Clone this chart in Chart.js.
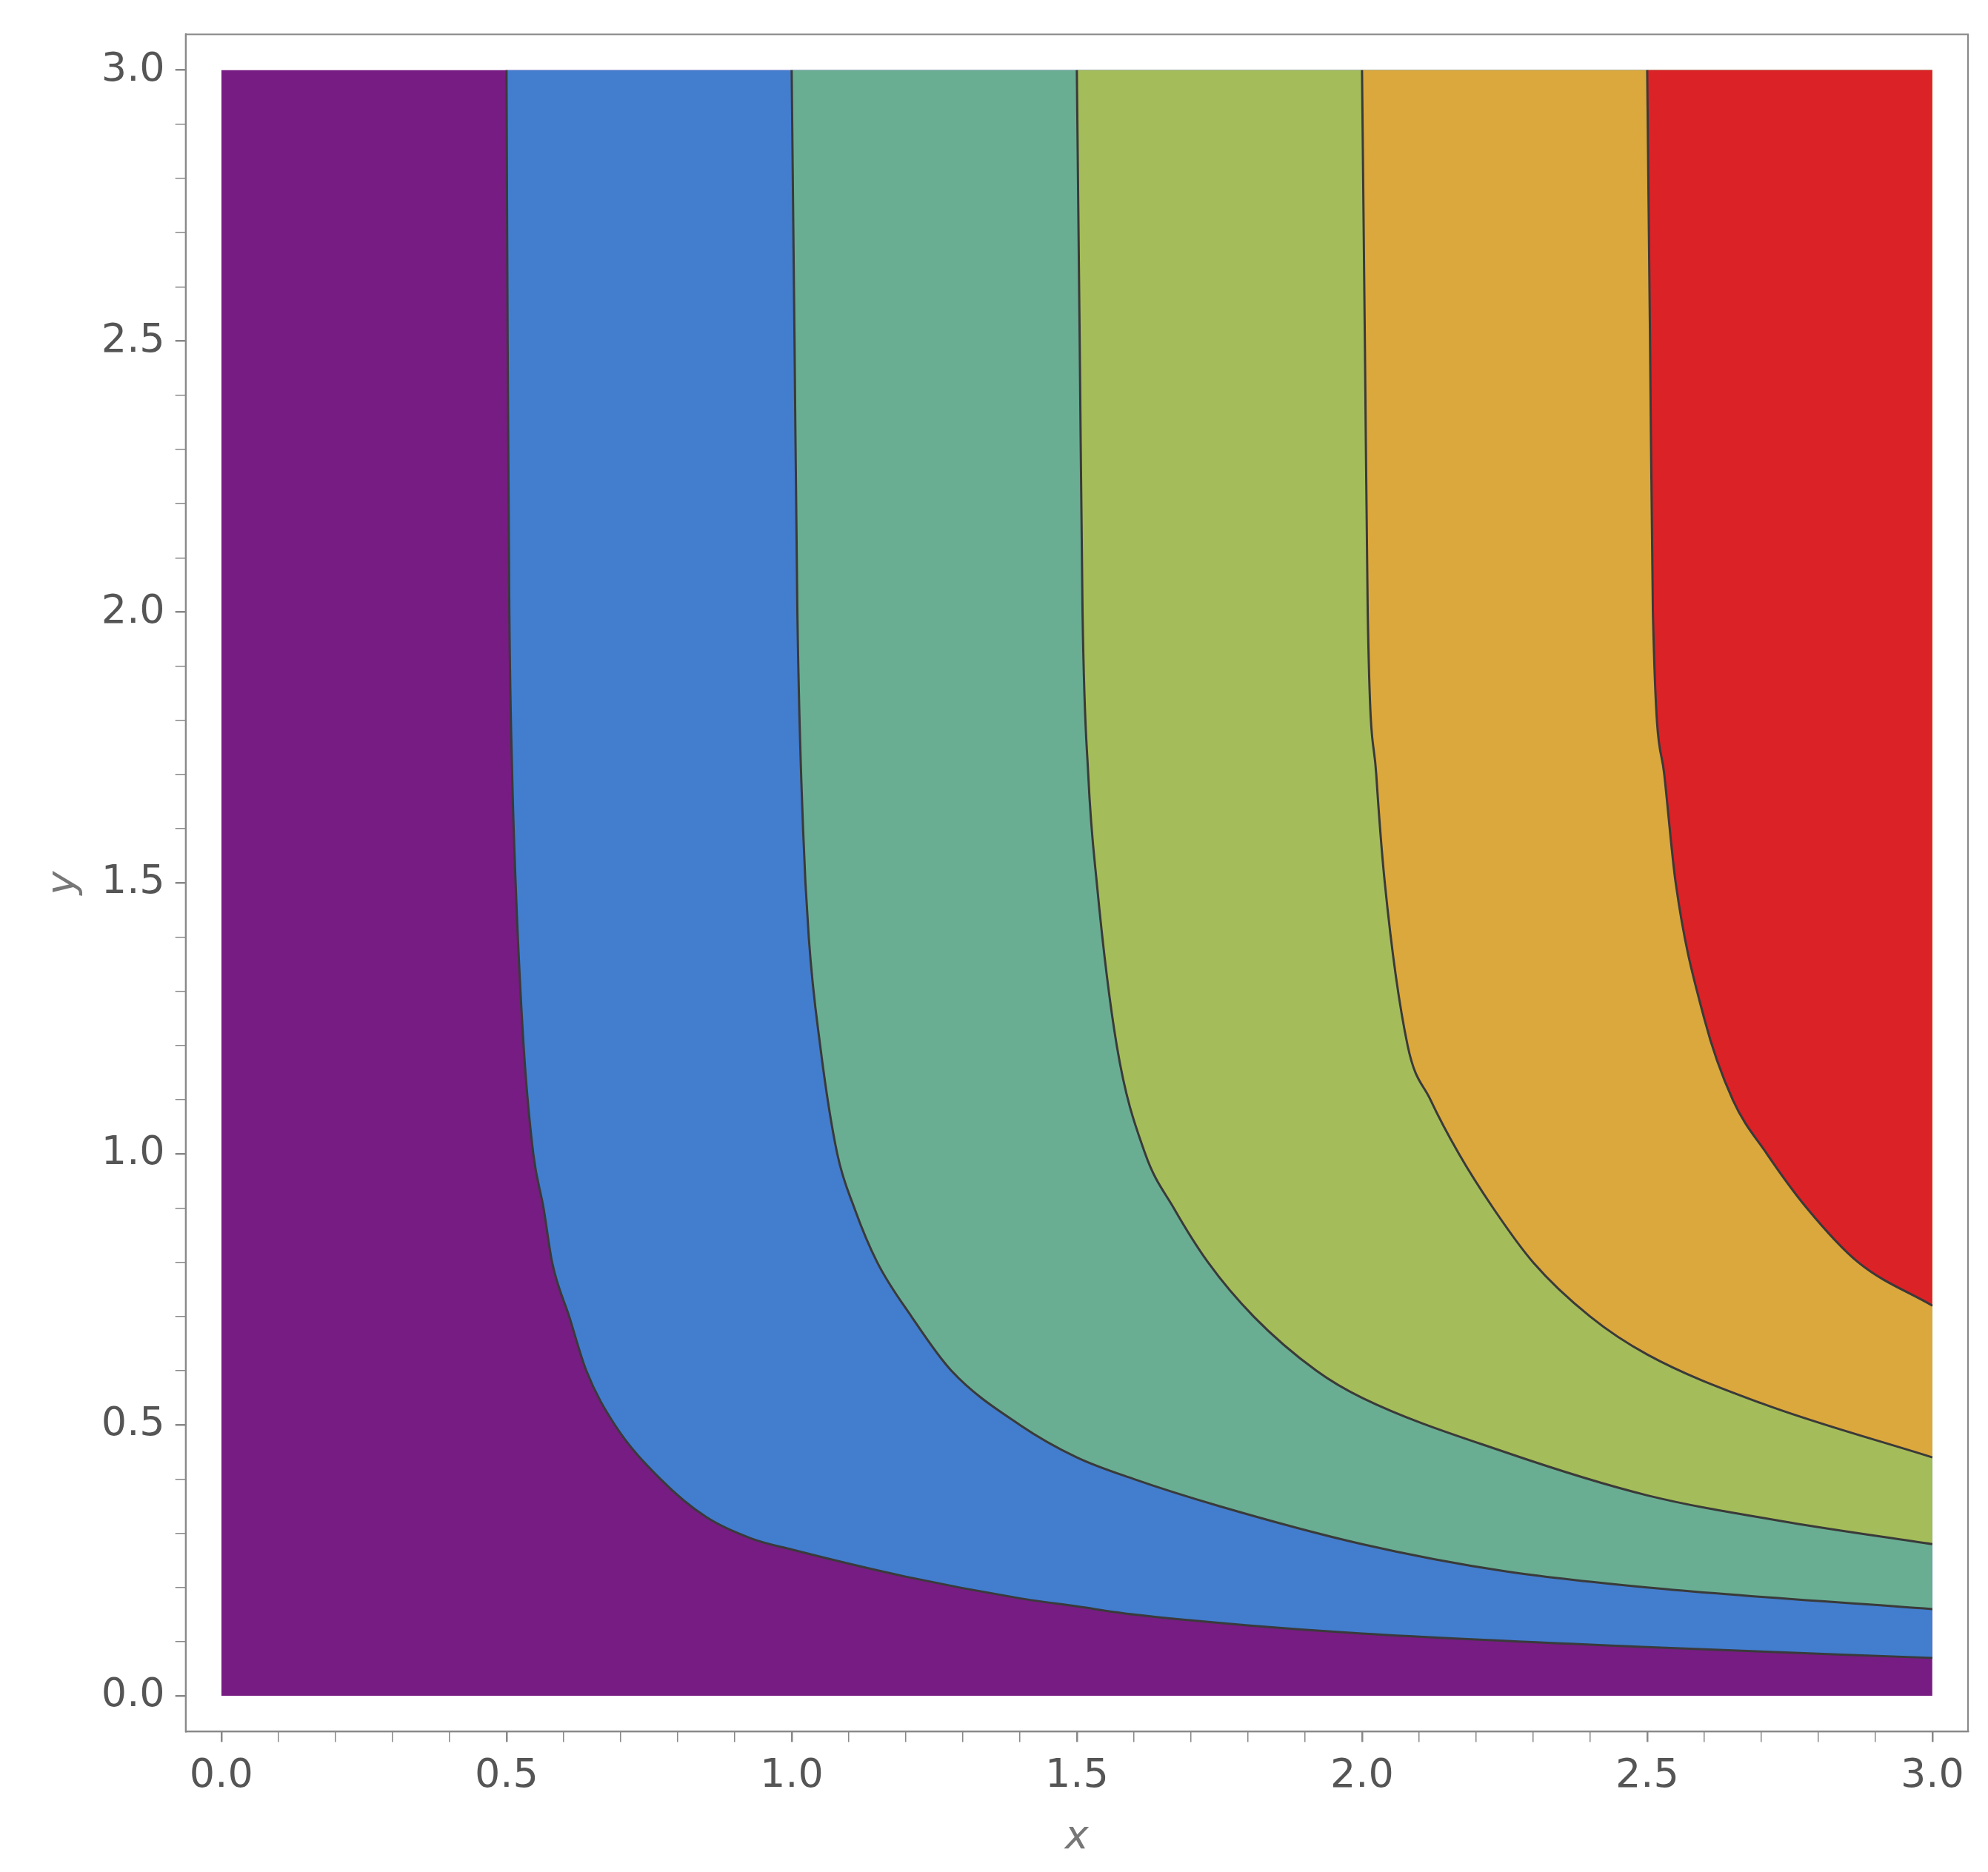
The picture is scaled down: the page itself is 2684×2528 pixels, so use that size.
<!DOCTYPE html>
<html>
<head>
<meta charset="utf-8">
<script src="https://cdn.jsdelivr.net/npm/chart.js@4/dist/chart.umd.min.js"></script>
<style>
  html, body { margin: 0; background: #fff; }
  #wrap { width: 2684px; height: 2528px; }
</style>
</head>
<body>
<div id="wrap"><canvas id="myChart"></canvas></div>
<script>
// contour boundaries, each as x (increasing) and y
const levels = ['0.5', '1.0', '1.5', '2.0', '2.5'];
const c1x = [0.5, 0.502, 0.505, 0.51, 0.516, 0.53, 0.547, 0.565, 0.58, 0.61, 0.64, 0.69, 0.77, 0.85, 0.93, 1.0, 1.2, 1.4, 1.5, 1.6, 1.8, 2.0, 2.5, 3.0];
const c1y = [3.0, 2.5, 2.0, 1.7, 1.5, 1.2, 1.0, 0.9, 0.8, 0.7, 0.6, 0.5, 0.4, 0.33, 0.29, 0.27, 0.22, 0.18, 0.165, 0.15, 0.13, 0.115, 0.09, 0.07];
const c2x = [1.0, 1.005, 1.01, 1.02, 1.03, 1.05, 1.08, 1.11, 1.15, 1.21, 1.28, 1.4, 1.5, 1.6, 1.75, 2.0, 2.25, 2.5, 3.0];
const c2y = [3.0, 2.5, 2.0, 1.6, 1.4, 1.2, 1.0, 0.9, 0.8, 0.7, 0.6, 0.5, 0.44, 0.4, 0.35, 0.28, 0.23, 0.2, 0.16];
const c3x = [1.5, 1.505, 1.51, 1.52, 1.535, 1.57, 1.62, 1.67, 1.73, 1.81, 1.92, 2.0, 2.25, 2.5, 2.75, 3.0];
const c3y = [3.0, 2.5, 2.0, 1.7, 1.5, 1.2, 1.0, 0.9, 0.8, 0.7, 0.6, 0.55, 0.45, 0.37, 0.32, 0.28];
const c4x = [2.0, 2.005, 2.01, 2.025, 2.04, 2.08, 2.12, 2.17, 2.23, 2.3, 2.4, 2.5, 2.7, 3.0];
const c4y = [3.0, 2.5, 2.0, 1.7, 1.5, 1.2, 1.1, 1.0, 0.9, 0.8, 0.7, 0.63, 0.54, 0.44];
const c5x = [2.5, 2.505, 2.51, 2.53, 2.55, 2.6, 2.65, 2.71, 2.78, 2.87, 3.0];
const c5y = [3.0, 2.5, 2.0, 1.7, 1.5, 1.25, 1.1, 1.0, 0.9, 0.8, 0.72];
const baseX = [0, 3];
const baseY = [0, 0];

const bandColors = ['#771c82', '#437dce', '#69ae93', '#a4bd5a', '#dba83d', '#db2226'];

function pts(xs, ys) { return xs.map((x, i) => ({ x: x, y: ys[i] })); }

const curves = [pts(baseX, baseY), pts(c1x, c1y), pts(c2x, c2y), pts(c3x, c3y), pts(c4x, c4y), pts(c5x, c5y)];

const datasets = curves.map((d, i) => ({
  label: i === 0 ? 'base' : levels[i - 1],
  data: d,
  borderColor: i === 0 ? bandColors[0] : '#3a3a3a',
  borderWidth: i === 0 ? 0 : 3,
  backgroundColor: bandColors[i],
  fill: { value: 3 },
  pointRadius: 0,
  cubicInterpolationMode: 'monotone',
  order: 10 - i
}));

const frame = {
  id: 'frame',
  afterDraw(chart) {
    const a = chart.chartArea, c = chart.ctx;
    c.save();
    c.strokeStyle = '#888';
    c.lineWidth = 2;
    c.strokeRect(a.left, a.top, a.right - a.left, a.bottom - a.top);
    c.restore();
  }
};

const fnt = { family: 'DejaVu Sans', size: 54 };
function tickSetup(scale) {
  scale.ticks = [];
  for (let i = 0; i <= 30; i++) scale.ticks.push({ value: i / 10 });
}
function lbl(v) {
  const r = Math.round(v * 10);
  return r % 5 === 0 ? (r / 10).toFixed(1) : '';
}
const gridOpt = {
  drawOnChartArea: false,
  tickLength: 14,
  color: '#888',
  lineWidth: ctx => (Math.round(ctx.tick.value * 10) % 5 === 0 ? 2.5 : 1.5)
};

new Chart(document.getElementById('myChart'), {
  type: 'line',
  data: { datasets: datasets },
  plugins: [frame],
  options: {
    responsive: true,
    maintainAspectRatio: false,
    animation: false,
    layout: { padding: { top: 31, right: 27, left: 50, bottom: 10 } },
    plugins: { legend: { display: false }, tooltip: { enabled: false } },
    scales: {
      x: {
        type: 'linear',
        min: -0.0625, max: 3.0625,
        afterBuildTicks: tickSetup,
        ticks: { callback: lbl, autoSkip: false, maxRotation: 0, color: '#555', font: fnt, padding: 14 },
        grid: gridOpt,
        border: { color: '#888', width: 2 },
        title: { display: true, text: 'x', color: '#777', font: { family: 'DejaVu Sans', size: 54, style: 'italic' } }
      },
      y: {
        type: 'linear',
        min: -0.066, max: 3.066,
        afterBuildTicks: tickSetup,
        ticks: { callback: lbl, autoSkip: false, color: '#555', font: fnt, padding: 14 },
        grid: gridOpt,
        border: { color: '#888', width: 2 },
        title: { display: true, text: 'y', color: '#777', font: { family: 'DejaVu Sans', size: 54, style: 'italic' } }
      }
    }
  }
});
</script>
</body>
</html>
